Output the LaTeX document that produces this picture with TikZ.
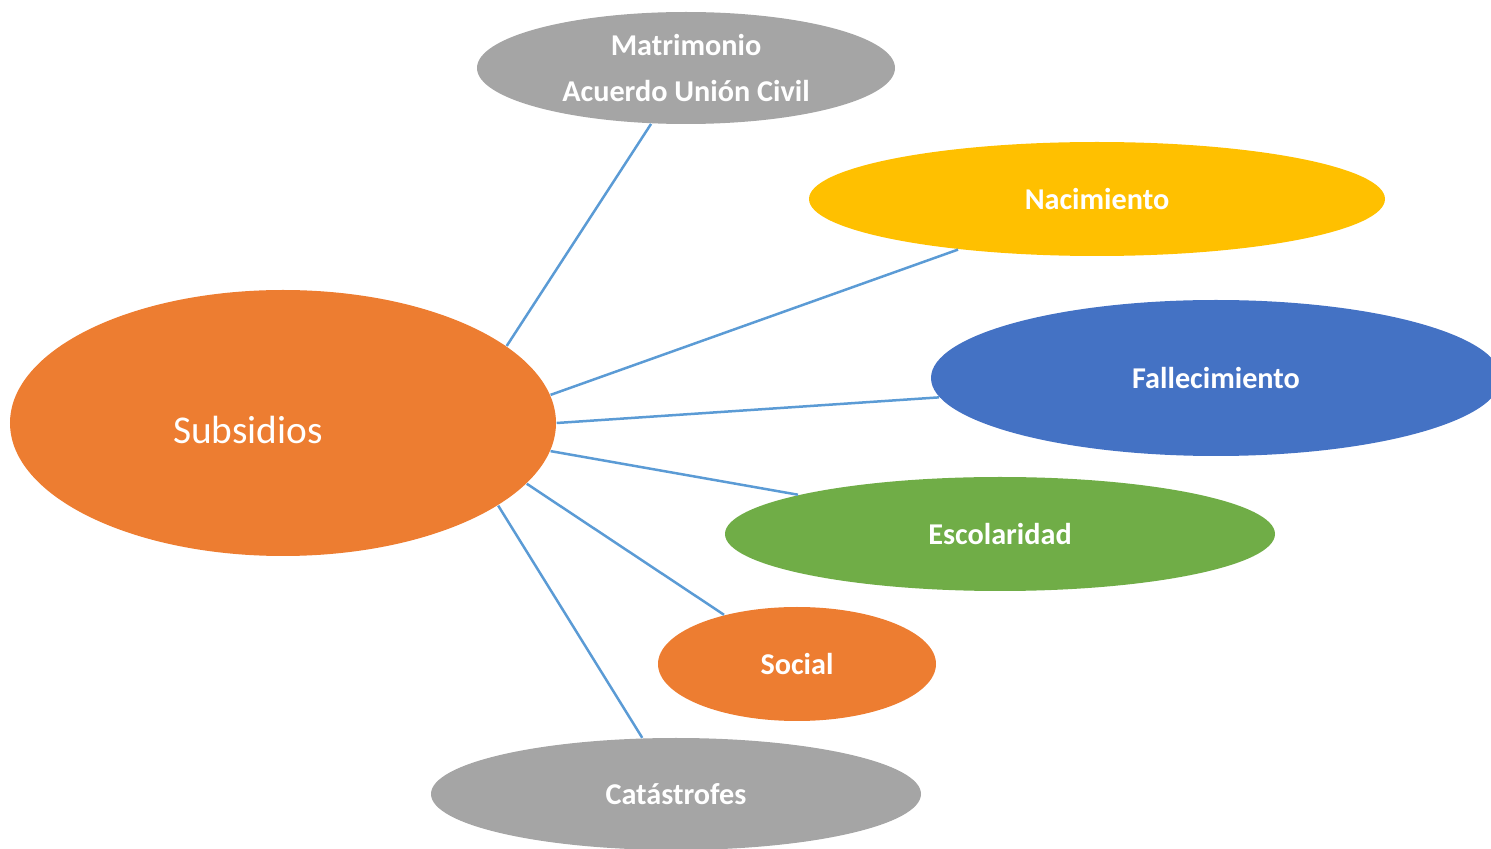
\documentclass[tikz,border=0pt]{standalone}
\usepackage{fontspec}
\setmainfont{Carlito}
\usepackage{tikz}
\usetikzlibrary{shapes.geometric, positioning}
\definecolor{orgC}{HTML}{ED7D31}
\definecolor{grayC}{HTML}{A5A5A5}
\definecolor{goldC}{HTML}{FFC000}
\definecolor{blueC}{HTML}{4472C4}
\definecolor{greenC}{HTML}{70AD47}
\definecolor{linkC}{HTML}{5B9BD5}
\tikzset{
    bubble/.style={ellipse, inner sep=0pt, text=white, font=\fontsize{8.6}{13.1}\selectfont\bfseries, align=center}, % every topic ellipse
    link/.style={draw=linkC, line width=0.25mm}, % the thin blue spokes
}

\begin{document}
\begin{tikzpicture}
    \clip (0,0) rectangle (14.91,-8.49);
    \node[bubble, fill=orgC, minimum width=5.46cm, minimum height=2.66cm, font=\fontsize{11.2}{13}\selectfont] (sub) at (2.83,-4.23) {\hspace*{-7mm}\raisebox{-0.7mm}[\height][\depth]{Subsidios}};
    \node[bubble, fill=grayC, minimum width=4.18cm, minimum height=1.12cm] (mat) at (6.86,-0.68) {Matrimonio\\Acuerdo Unión Civil};
    \node[bubble, fill=goldC, minimum width=5.76cm, minimum height=1.14cm] (nac) at (10.97,-1.99) {Nacimiento};
    \node[bubble, fill=blueC, minimum width=5.70cm, minimum height=1.56cm] (fal) at (12.16,-3.78) {Fallecimiento};
    \node[bubble, fill=greenC, minimum width=5.50cm, minimum height=1.14cm] (esc) at (10.00,-5.34) {Escolaridad};
    \node[bubble, fill=orgC, minimum width=2.78cm, minimum height=1.14cm] (soc) at (7.97,-6.64) {Social};
    \node[bubble, fill=grayC, minimum width=4.90cm, minimum height=1.12cm] (cat) at (6.76,-7.94) {Catástrofes};
    % spokes from Subsidios
    \draw[link] (sub.19) -- (mat.-122);
    \draw[link] (sub.6) -- (nac.200);
    \draw[link] (sub.0) -- (fal.184);
    \draw[link] (sub.-6) -- (esc.169);
    \draw[link] (sub.-14) -- (soc.146);
    \draw[link] (sub.-21.5) -- (cat.121);
\end{tikzpicture}
\end{document}
